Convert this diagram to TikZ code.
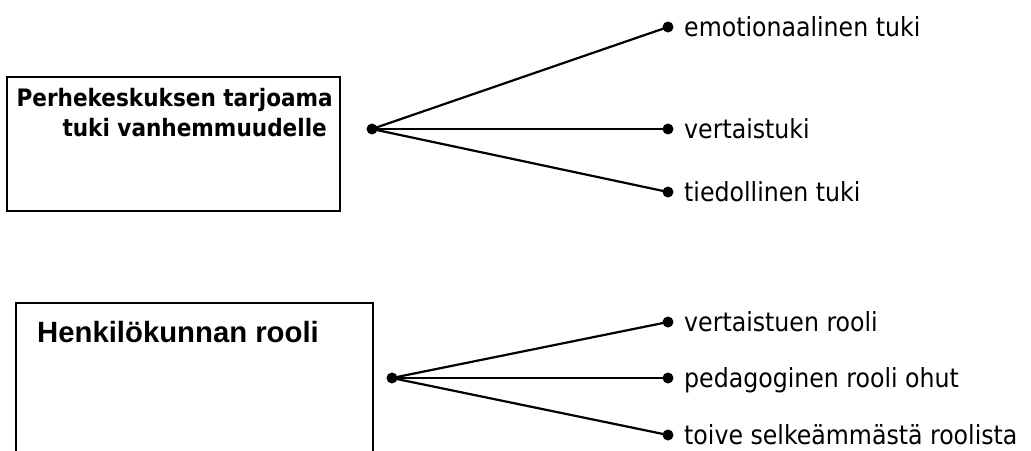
\documentclass[tikz,border=0pt]{standalone}
\usepackage{fontspec}
\setmainfont{DejaVu Sans Condensed}
\newfontfamily\arialfont{Liberation Sans}
\begin{document}
\begin{tikzpicture}[x=1pt,y=-1pt,
  boxstyle/.style={draw,line width=2pt},
  conn/.style={line width=2.2pt},
  dotnode/.style={circle,fill=black,inner sep=0pt,minimum size=11pt},
  lbl/.style={anchor=base west,inner sep=0pt,font=\fontsize{26.3}{30}\selectfont},
  title/.style={anchor=base east,inner sep=0pt,font=\fontsize{24}{28}\selectfont\bfseries}]
\useasboundingbox (0,0) rectangle (1031,450);
% top box
\draw[boxstyle] (7,77) rectangle (340,211);
\node[title] (t1) at (333,106) {Perhekeskuksen tarjoama};
\node[title] (t2) at (327,136) {tuki vanhemmuudelle};
\node[dotnode] (s1) at (372,129) {};
\node[dotnode] (a1) at (668,27) {};
\node[dotnode] (a2) at (668,129) {};
\node[dotnode] (a3) at (668,192) {};
\draw[conn] (s1.center) -- (a1.center);
\draw[conn] (s1.center) -- (a2.center);
\draw[conn] (s1.center) -- (a3.center);
\node[lbl] (l1) at (684,36) {emotionaalinen tuki};
\node[lbl] (l2) at (684,138) {vertaistuki};
\node[lbl] (l3) at (684,201) {tiedollinen tuki};
% bottom box
\draw[boxstyle] (16,303) rectangle (373,470);
\node[anchor=base west,inner sep=0pt,font=\arialfont\fontsize{29.3}{33}\selectfont\bfseries] (t3) at (37,342) {Henkilökunnan rooli};
\node[dotnode] (s2) at (392,378) {};
\node[dotnode] (b1) at (668,322) {};
\node[dotnode] (b2) at (668,378) {};
\node[dotnode] (b3) at (668,435) {};
\draw[conn] (s2.center) -- (b1.center);
\draw[conn] (s2.center) -- (b2.center);
\draw[conn] (s2.center) -- (b3.center);
\node[lbl] (m1) at (684,331) {vertaistuen rooli};
\node[lbl] (m2) at (684,387) {pedagoginen rooli ohut};
\node[lbl] (m3) at (684,444) {toive selkeämmästä roolista};
\end{tikzpicture}
\end{document}
